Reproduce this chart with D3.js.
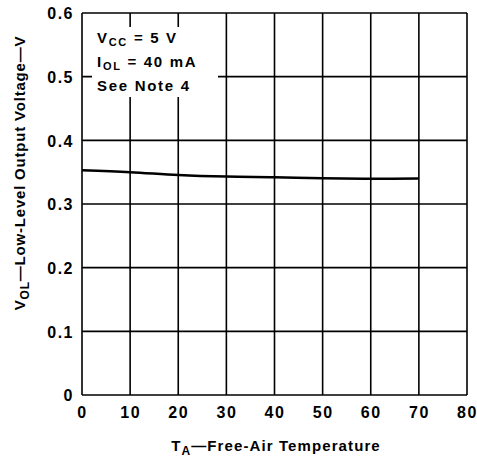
<!DOCTYPE html>
<html>
<head>
<meta charset="utf-8">
<script src="https://cdn.jsdelivr.net/npm/d3@7"></script>
<style>
  body { margin: 0; background: #fff; }
  svg { display: block; }
  text { font-family: "Liberation Sans", Arial, Helvetica, sans-serif; font-weight: bold; fill: #000; }
</style>
</head>
<body>
<svg id="chart" width="477" height="457"></svg>
<script>
// Data
const temps = [0, 10, 20, 30, 40, 50, 60, 70];
const vol = [0.353, 0.350, 0.3455, 0.343, 0.342, 0.3405, 0.3398, 0.340];
const xTicks = [0, 10, 20, 30, 40, 50, 60, 70, 80];
const yTicks = [0, 0.1, 0.2, 0.3, 0.4, 0.5, 0.6];
const yTickLabels = ["0", "0.1", "0.2", "0.3", "0.4", "0.5", "0.6"];

const svg = d3.select("#chart");
const x = d3.scaleLinear().domain([0, 80]).range([82, 467]);
const y = d3.scaleLinear().domain([0, 0.6]).range([395, 13]);

// Grid
const grid = svg.append("g").attr("stroke", "#000").attr("stroke-width", 1.6);
grid.selectAll("line.v").data(xTicks).enter().append("line")
  .attr("x1", d => x(d)).attr("x2", d => x(d))
  .attr("y1", y(0.6)).attr("y2", y(0));
grid.selectAll("line.h").data(yTicks).enter().append("line")
  .attr("x1", x(0)).attr("x2", x(80))
  .attr("y1", d => y(d)).attr("y2", d => y(d));

// Note box background
svg.append("rect").attr("x", 92).attr("y", 27).attr("width", 126).attr("height", 70).attr("fill", "#fff");

// Curve
svg.append("path")
  .datum(temps.map((t, i) => [t, vol[i]]))
  .attr("fill", "none").attr("stroke", "#000").attr("stroke-width", 2.5)
  .attr("d", d3.line().x(d => x(d[0])).y(d => y(d[1])).curve(d3.curveMonotoneX));

// Axes tick labels
const xAxis = d3.axisBottom(x).tickValues(xTicks).tickSize(0).tickPadding(0).tickFormat(d3.format("d"));
const gx = svg.append("g").attr("transform", `translate(0,${y(0)})`).call(xAxis);
gx.select(".domain").remove();
gx.selectAll("text").attr("font-size", 16).attr("font-family", null).attr("letter-spacing", 1.5)
  .attr("dy", null).attr("y", 23);

const yAxis = d3.axisLeft(y).tickValues(yTicks).tickSize(0).tickPadding(0).tickFormat((d, i) => yTickLabels[i]);
const gy = svg.append("g").attr("transform", `translate(74,0)`).call(yAxis);
gy.select(".domain").remove();
gy.selectAll("text").attr("font-size", 16).attr("font-family", null).attr("letter-spacing", 1.5)
  .attr("dy", "0.36em");

// Note text
const note = svg.append("g").attr("font-size", 15);
function sub(t, main, s, rest) {
  t.append("tspan").text(main);
  t.append("tspan").attr("font-size", 11).attr("dy", 3).text(s);
  t.append("tspan").attr("dy", -3).text(rest);
}
const n1 = note.append("text").attr("x", 97).attr("y", 43).attr("letter-spacing", 1.7);
sub(n1, "V", "CC", " = 5 V");
const n2 = note.append("text").attr("x", 97).attr("y", 67).attr("letter-spacing", 1.7);
sub(n2, "I", "OL", " = 40 mA");
note.append("text").attr("x", 97).attr("y", 91).attr("letter-spacing", 1.7).text("See Note 4");

// X title
const xt = svg.append("text").attr("x", 276).attr("y", 451).attr("text-anchor", "middle")
  .attr("font-size", 15).attr("letter-spacing", 1.1);
xt.append("tspan").text("T");
xt.append("tspan").attr("font-size", 12).attr("dy", 4).text("A");
xt.append("tspan").attr("dy", -4).text("\u2014Free-Air Temperature");

// Y title
const yt = svg.append("text").attr("transform", "translate(25,173) rotate(-90)").attr("text-anchor", "middle")
  .attr("font-size", 15).attr("letter-spacing", 0.8);
yt.append("tspan").text("V");
yt.append("tspan").attr("font-size", 12).attr("dy", 4).text("OL");
yt.append("tspan").attr("dy", -4).text("\u2014Low-Level Output Voltage\u2014V");
</script>
</body>
</html>
